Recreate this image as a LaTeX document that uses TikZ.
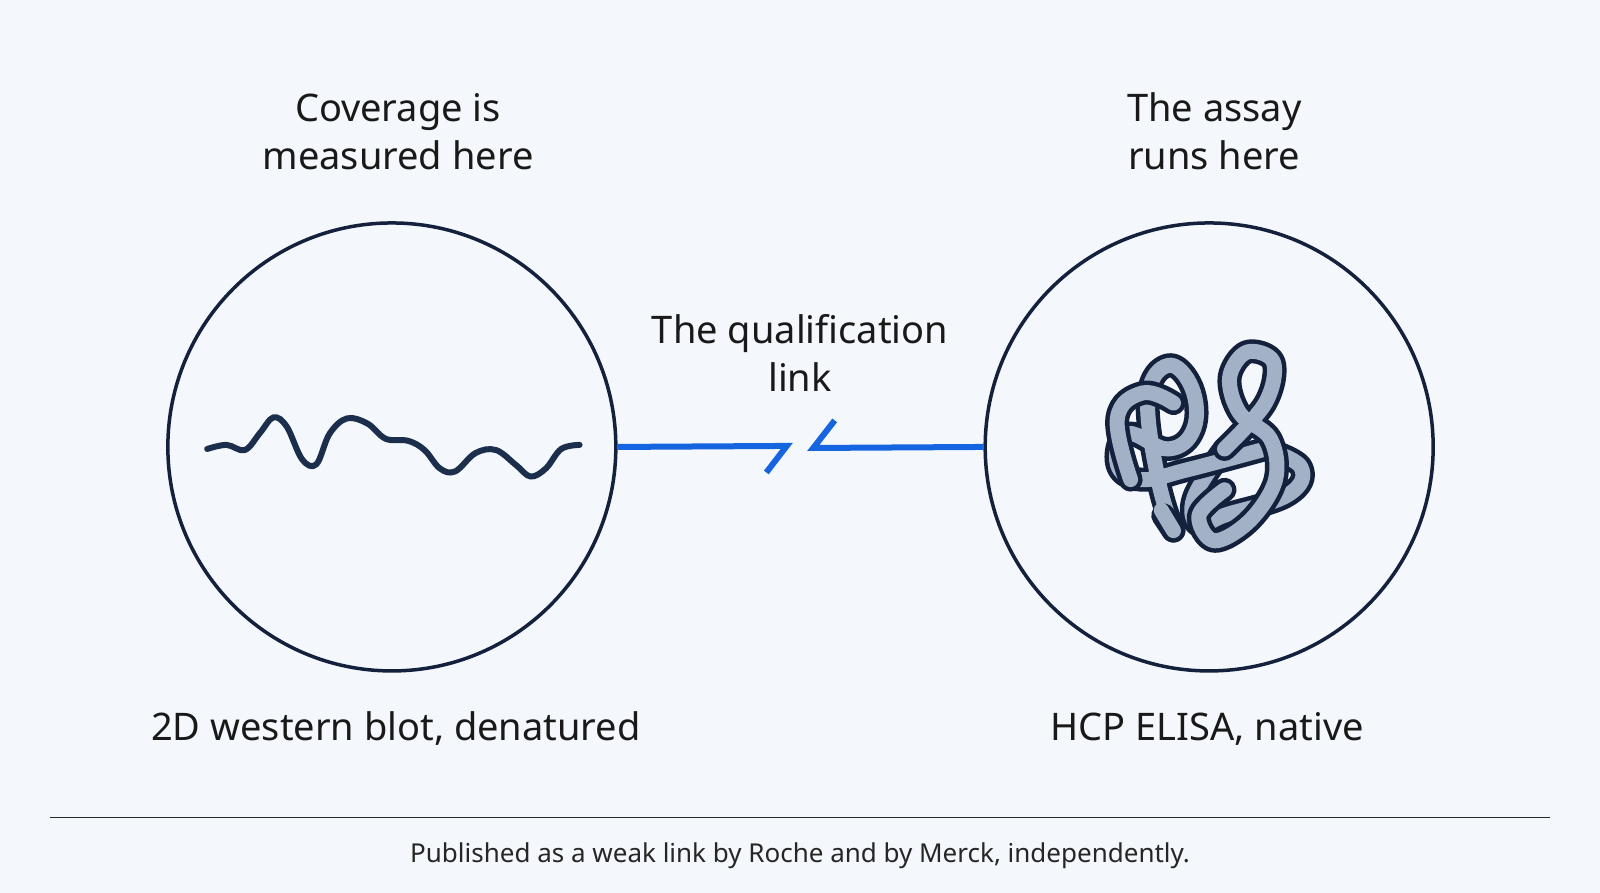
\documentclass[tikz,border=0pt]{standalone}
\usepackage{fontspec}
\setmainfont{Noto Sans}
\begin{document}
\begin{tikzpicture}[x=1.0204pt,y=-1.0204pt,
  lbl/.style={font=\fontsize{38}{48}\selectfont,text=black!90,align=center},
  ring/.style={draw=cDark,line width=3.5pt,fill=cBg},
  link/.style={draw=cBlue,line width=6pt},
  knotO/.style={draw=cDark,line width=24pt,line cap=round,line join=round},
  knotI/.style={draw=cGray,line width=15pt,line cap=round,line join=round}]
\definecolor{cBg}{HTML}{F4F7FB}
\definecolor{cDark}{HTML}{14213D}
\definecolor{cBlue}{HTML}{1565E0}
\definecolor{cGray}{HTML}{A3B1C6}
\definecolor{cWave}{HTML}{1B2E4B}
\fill[cBg] (0,0) rectangle (1568,875);
\useasboundingbox (0,0) rectangle (1568,875);
\node[ring,circle,minimum size=448pt] (L) at (384,438) {};
\node[ring,circle,minimum size=448pt] (R) at (1185,438) {};
\coordinate (a1) at (771,437); \coordinate (a2) at (751,463);
\coordinate (b1) at (797,439); \coordinate (b2) at (818,412);
\draw[link] (L.east) -- (a1) -- (a2);
\draw[link] (R.west) -- (b1) -- (b2);
\node[lbl] (t1) at (390,129) {Coverage is\\measured here};
\node[lbl] (t2) at (1190,129) {The assay\\runs here};
\node[lbl] (t3) at (784,346) {The qualification\\link};
\node[lbl] (t4) at (388,714) {2D western blot, denatured};
\node[lbl] (t5) at (1183,714) {HCP ELISA, native};
\coordinate (r1) at (49,801); \coordinate (r2) at (1519,801);
\draw[line width=1.2pt,black!85] (r1) -- (r2);
\node[font=\fontsize{26}{30}\selectfont,text=black!85] (ft) at (784,839) {Published as a weak link by Roche and by Merck, independently.};
% wave
\draw[cWave,line width=6pt,line cap=round,line join=round] plot[smooth,tension=0.6] coordinates {
(203,440)(222,436)(240,441)(255,424)(268,409)(281,418)(296,450)(310,455)(323,425)(340,410)(360,415)(378,430)(400,432)(416,441)(431,459)(446,462)(466,444)(486,441)(506,456)(520,467)(535,459)(550,440)(568,436)};
% knot
\begin{scope}
\draw[knotO] plot[smooth,tension=0.7] coordinates {(1240,440)(1275,458)(1262,485)(1200,505)(1175,515)(1170,488)(1200,440)};
\draw[knotI] plot[smooth,tension=0.7] coordinates {(1240,440)(1275,458)(1262,485)(1200,505)(1175,515)(1170,488)(1200,440)};
\draw[knotO] plot[smooth,tension=0.7] coordinates {(1150,520)(1135,470)(1125,390)(1145,358)(1168,380)(1170,420)(1145,440)(1105,425)(1095,455)(1118,470)(1165,460)(1240,440)};
\draw[knotI] plot[smooth,tension=0.7] coordinates {(1150,520)(1135,470)(1125,390)(1145,358)(1168,380)(1170,420)(1145,440)(1105,425)(1095,455)(1118,470)(1165,460)(1240,440)};
\draw[knotO] plot[smooth,tension=0.7] coordinates {(1108,470)(1095,410)(1120,385)(1150,395)};
\draw[knotI] plot[smooth,tension=0.7] coordinates {(1108,470)(1095,410)(1120,385)(1150,395)};
\draw[knotO] plot[smooth,tension=0.6] coordinates {(1200,440)(1240,395)(1248,355)(1222,345)(1205,370)(1215,405)(1245,430)(1250,470)(1225,510)(1190,530)(1175,505)(1200,480)};
\draw[knotI] plot[smooth,tension=0.6] coordinates {(1200,440)(1240,395)(1248,355)(1222,345)(1205,370)(1215,405)(1245,430)(1250,470)(1225,510)(1190,530)(1175,505)(1200,480)};
\draw[knotO] (1150,520) -- (1140,505);
\draw[knotI] (1150,520) -- (1138,500);
\end{scope}
\end{tikzpicture}
\end{document}
